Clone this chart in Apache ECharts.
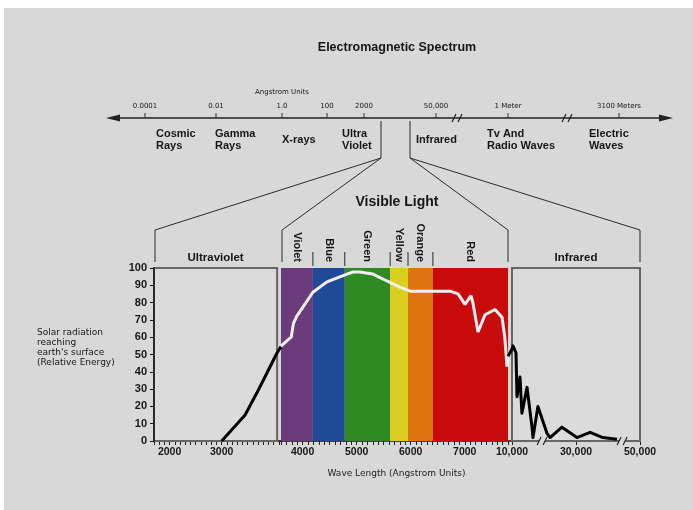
<!DOCTYPE html>
<html>
<head>
<meta charset="utf-8">
<script src="https://cdn.jsdelivr.net/npm/echarts@6/dist/echarts.min.js"></script>
<style>
  html, body { margin: 0; padding: 0; background: #fff; }
  #wrap { position: relative; width: 693px; height: 510px; }
  #chart { position: absolute; left: 0; top: 0; width: 693px; height: 510px; }
  .edge { position: absolute; background: #fff; z-index: 5; }
</style>
</head>
<body>
<div id="wrap">
  <div id="chart"></div>
  <div class="edge" style="left:0;top:0;width:693px;height:8px"></div>
  <div class="edge" style="left:0;top:0;width:4px;height:510px"></div>
</div>
<script>
// solar radiation reaching the surface, [wavelength (angstrom), relative energy]
var uvCurve = [[3000, 0], [3450, 15], [3675, 27.7], [3865, 39], [4060, 50.7], [4140, 54.6]];
var visCurve = [[3600, 54.6], [3640, 56], [3750, 59], [3790, 60], [3830, 68], [3890, 72],
  [4190, 86], [4450, 92], [4820, 96.5], [4930, 97.7], [5060, 97.7], [5300, 96.5],
  [5560, 92.5], [5800, 89], [5990, 86.6], [6170, 86.6], [6730, 86.6], [6875, 85],
  [7005, 79], [7115, 84], [7150, 80], [7245, 63], [7375, 73], [7560, 76], [7690, 71.5],
  [7740, 60], [7765, 50], [7780, 43], [7800, 49]];
var visTail = [[7800, 49], [7874, 53]];
var irCurve = [[10000, 53], [10300, 55], [11250, 51], [11560, 25.6], [12500, 37], [13100, 16],
  [14700, 31], [16250, 8], [16560, 2], [18100, 20], [20900, 4.6], [21900, 2], [25600, 8],
  [30300, 2], [34400, 5], [38400, 2], [42800, 1]];

var bandNames = ['Violet', 'Blue', 'Green', 'Yellow', 'Orange', 'Red'];
var bandEdges = [3600, 4190, 4780, 5620, 5950, 6410, 7800];
var bandColors = ['#6b3b7b', '#1f4a97', '#2f8a24', '#d9cf1f', '#dd7410', '#c80c0c'];

var uvTickLabels = [2000, 3000];
var visTickLabels = [4000, 5000, 6000, 7000];
var irTickLabels = [10000, 30000, 50000];
var irBreaks = [19400, 44400];

var specTickLabels = ['0.0001', '0.01', '1.0', '100', '2000', '50,000', '1 Meter', '3100 Meters'];
var specNames = ['Cosmic\nRays', 'Gamma\nRays', 'X-rays', 'Ultra\nViolet', 'Infrared', 'Tv And\nRadio Waves', 'Electric\nWaves'];

// header layout (pixels)
var specTickX = [145, 216, 282, 327, 364, 436, 508, 619];
var specNameX = [156, 215, 282, 342, 416, 487, 589];
var specBreakX = [457, 567];

var FONT = '"Liberation Sans", Arial, sans-serif';
var THIN = '"DejaVu Sans", sans-serif';
var BG = '#d8d8d8';
var INK = '#161616';

var chart = echarts.init(document.getElementById('chart'));

function fmt(v) { return Number(v).toLocaleString('en-US'); }

function xAxisBase(grid, min, max, labels) {
  return {
    type: 'value', gridIndex: grid, min: min, max: max, interval: 100,
    axisLine: { lineStyle: { color: INK, width: 1.5 } },
    axisTick: { length: 4, lineStyle: { color: '#222', width: 1 } },
    axisLabel: {
      customValues: labels, formatter: function (v) { return v >= 10000 ? fmt(v) : String(v); },
      color: INK, fontFamily: FONT, fontWeight: 'bold', fontSize: 10.5, margin: 6
    },
    splitLine: { show: false }
  };
}

var bandAreas = bandNames.map(function (n, i) {
  return [{ name: n, xAxis: bandEdges[i], yAxis: 0, itemStyle: { color: bandColors[i] } },
    { xAxis: bandEdges[i + 1], yAxis: 100 }];
});

var xUv = xAxisBase(0, 1700, 4140, uvTickLabels);
var xVis = xAxisBase(1, 3600, 7874, visTickLabels);
xVis.name = 'Wave Length (Angstrom Units)';
xVis.nameLocation = 'middle';
xVis.nameGap = 28;
xVis.nameTextStyle = { fontFamily: THIN, fontSize: 9, color: '#222' };
var xIr = xAxisBase(2, 10000, 50000, irTickLabels);
xIr.interval = 20000;
xIr.axisTick.customValues = irTickLabels;

var boxLabel = { show: true, position: 'top', distance: 3, color: INK, fontFamily: FONT, fontWeight: 'bold', fontSize: 11.5 };

var option = {
  backgroundColor: BG,
  animation: false,
  grid: [
    { left: 154, top: 268, width: 127, height: 173 },
    { left: 281, top: 268, width: 231, height: 173 },
    { left: 512, top: 268, width: 128, height: 173 }
  ],
  xAxis: [xUv, xVis, xIr],
  yAxis: [
    {
      type: 'value', gridIndex: 0, min: 0, max: 100, interval: 10, z: 5,
      axisLine: { show: true, lineStyle: { color: INK, width: 1.5 } },
      axisTick: { show: true, length: 4, lineStyle: { color: INK } },
      axisLabel: { color: INK, fontFamily: FONT, fontWeight: 'bold', fontSize: 11, margin: 7 },
      splitLine: { show: false }
    },
    { type: 'value', gridIndex: 1, min: 0, max: 100, show: false },
    { type: 'value', gridIndex: 2, min: 0, max: 100, show: false }
  ],
  series: [
    {
      type: 'line', xAxisIndex: 0, yAxisIndex: 0, data: [], z: 1, silent: true,
      markArea: {
        silent: true,
        itemStyle: { color: '#dbdbdb', borderColor: '#666', borderWidth: 2 },
        label: boxLabel,
        data: [[{ name: 'Ultraviolet', xAxis: 1700, yAxis: 0 }, { xAxis: 4065, yAxis: 100 }]]
      }
    },
    {
      type: 'line', xAxisIndex: 1, yAxisIndex: 1, data: [], z: 1, silent: true,
      markArea: {
        silent: true,
        label: {
          show: true, position: 'top', distance: 6, rotate: -90, align: 'right', verticalAlign: 'middle',
          color: INK, fontFamily: FONT, fontWeight: 'bold', fontSize: 11
        },
        data: bandAreas
      }
    },
    {
      type: 'line', xAxisIndex: 2, yAxisIndex: 2, data: [], z: 1, silent: true,
      markArea: {
        silent: true,
        itemStyle: { color: '#dbdbdb', borderColor: '#666', borderWidth: 2 },
        label: boxLabel,
        data: [[{ name: 'Infrared', xAxis: 10000, yAxis: 0 }, { xAxis: 50000, yAxis: 100 }]]
      }
    },
    {
      type: 'line', xAxisIndex: 0, yAxisIndex: 0, data: uvCurve, z: 3, showSymbol: false,
      lineStyle: { color: '#000', width: 3 }
    },
    {
      type: 'line', xAxisIndex: 1, yAxisIndex: 1, data: visCurve, z: 3, showSymbol: false,
      lineStyle: { color: '#f3eeef', width: 3 }
    },
    {
      type: 'line', xAxisIndex: 1, yAxisIndex: 1, data: visTail, z: 3, showSymbol: false,
      lineStyle: { color: '#000', width: 3 }
    },
    {
      type: 'line', xAxisIndex: 2, yAxisIndex: 2, data: irCurve, z: 3, showSymbol: false,
      lineStyle: { color: '#000', width: 3, join: 'round' }
    }
  ]
};
chart.setOption(option);

// decorations placed from the axes' own scales
function px(axis, v) { return chart.convertToPixel({ xAxisIndex: axis }, v); }
var y0 = chart.convertToPixel({ yAxisIndex: 0 }, 0);
var y100 = chart.convertToPixel({ yAxisIndex: 0 }, 100);

var g = [];
function seg(x1, y1, x2, y2, w, c) {
  g.push({ type: 'line', z: 50, silent: true, shape: { x1: x1, y1: y1, x2: x2, y2: y2 },
    style: { stroke: c || '#2a2a2a', lineWidth: w || 1 } });
}
function txt(t, x, y, font, align, va, lh) {
  g.push({ type: 'text', z: 50, silent: true, x: x, y: y,
    style: { text: t, font: font, fill: INK, align: align || 'center', textAlign: align || 'center',
      verticalAlign: va || 'middle', textVerticalAlign: va || 'middle', lineHeight: lh || 12 } });
}
function slash(x, y) {
  g.push({ type: 'rect', z: 49, silent: true, shape: { x: x - 3, y: y - 2, width: 6, height: 4 }, style: { fill: BG } });
  seg(x - 5, y + 4, x - 1, y - 4, 1.2, '#222');
  seg(x + 1, y + 4, x + 5, y - 4, 1.2, '#222');
}

// header: electromagnetic spectrum
txt('Electromagnetic Spectrum', 397, 48, 'bold 12.5px ' + FONT);
txt('Angstrom Units', 282, 92, '7px ' + THIN);
seg(116, 118, 662, 118, 1.5, '#222');
g.push({ type: 'polygon', z: 50, silent: true, shape: { points: [[106, 118], [120, 114.5], [120, 121.5]] }, style: { fill: '#222' } });
g.push({ type: 'polygon', z: 50, silent: true, shape: { points: [[673, 118], [659, 114.5], [659, 121.5]] }, style: { fill: '#222' } });
specTickLabels.forEach(function (t, i) {
  txt(t, specTickX[i], 106, '7px ' + THIN);
  seg(specTickX[i], 113, specTickX[i], 118, 1, '#333');
});
specBreakX.forEach(function (x) { slash(x, 118); });
specNames.forEach(function (t, i) {
  txt(t, specNameX[i], 140, 'bold 11px ' + FONT, 'left', 'middle', 12);
});

// zoom brackets down to the chart boxes
var uvL = px(0, 1700), visL = px(1, 3600), visR = px(1, bandEdges[bandEdges.length - 1]), irR = px(2, 50000);
seg(381, 121, 381, 158);
seg(410, 121, 410, 158);
seg(381, 158, uvL + 1, 230);
seg(381, 158, visL + 1, 230);
seg(410, 158, visR, 230);
seg(410, 158, irR, 230);
[uvL + 1, visL + 1, visR, irR].forEach(function (x) { seg(x, 230, x, y100 - 6); });
for (var i = 1; i < bandEdges.length - 1; i++) {
  var bx = px(1, bandEdges[i]);
  seg(bx, y100 - 16, bx, y100 - 2);
}
txt('Visible Light', 397, 202, 'bold 14px ' + FONT);

// axis breaks
irBreaks.forEach(function (v) { slash(px(2, v), y0); });

// y axis title
txt("Solar radiation\nreaching\nearth's surface\n(Relative Energy)", 37, 348, '9px ' + THIN, 'left', 'middle', 10);

chart.setOption({ graphic: g });
</script>
</body>
</html>
